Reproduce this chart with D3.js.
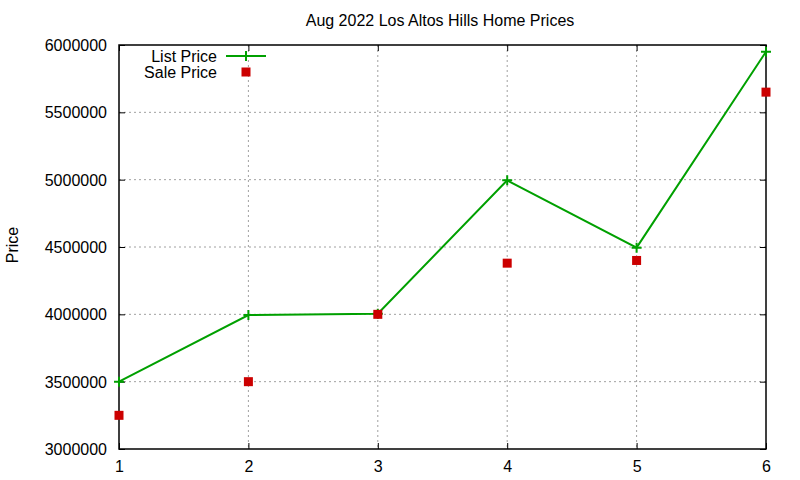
<!DOCTYPE html>
<html>
<head>
<meta charset="utf-8">
<script src="https://cdn.jsdelivr.net/npm/d3@7"></script>
<style>
  body { margin: 0; background: #fff; }
  text { font-family: "Liberation Sans", Arial, sans-serif; }
</style>
</head>
<body>
<div id="chart"></div>
<script>
// data
let months = [1, 2, 3, 4, 5, 6];
let listPrice = [3500000, 3995000, 4005000, 4995000, 4495000, 5950000];
let salePrice = [3250000, 3500000, 4000000, 4380000, 4400000, 5650000];
let yTicks = [3000000, 3500000, 4000000, 4500000, 5000000, 5500000, 6000000];

let W = 800, H = 480;
let margin = {top: 45, right: 34, bottom: 31, left: 119};
let width = W - margin.left - margin.right;
let height = H - margin.top - margin.bottom;

let svg = d3.select("#chart").append("svg")
    .attr("width", W)
    .attr("height", H);

let g = svg.append("g")
    .attr("transform", `translate(${margin.left}, ${margin.top})`);

let x = d3.scaleLinear().domain([1, 6]).range([0, width]);
let y = d3.scaleLinear().domain([3000000, 6000000]).range([height, 0]);

// grid
g.append("g").selectAll("line").data(months.slice(1, -1)).enter().append("line")
    .attr("x1", d => x(d)).attr("x2", d => x(d))
    .attr("y1", 0).attr("y2", height)
    .attr("stroke", "#a0a0a0").attr("stroke-dasharray", "2,3");
g.append("g").selectAll("line").data(yTicks.slice(1, -1)).enter().append("line")
    .attr("x1", 0).attr("x2", width)
    .attr("y1", d => y(d)).attr("y2", d => y(d))
    .attr("stroke", "#a0a0a0").attr("stroke-dasharray", "2,3");

// axes (mirrored like gnuplot)
let fmt = d => d3.format("d")(d);
let axLeft = g.append("g").call(d3.axisLeft(y).tickValues(yTicks).tickSize(-6).tickPadding(12).tickFormat(fmt));
let axRight = g.append("g").attr("transform", `translate(${width},0)`)
    .call(d3.axisRight(y).tickValues(yTicks).tickSize(-6).tickFormat(""));
let axBottom = g.append("g").attr("transform", `translate(0,${height})`)
    .call(d3.axisBottom(x).tickValues(months).tickSize(-6).tickPadding(12).tickFormat(d3.format("d")));
let axTop = g.append("g").call(d3.axisTop(x).tickValues(months).tickSize(-6).tickFormat(""));

[axLeft, axRight, axBottom, axTop].forEach(a => {
    a.select(".domain").remove();
    a.selectAll("line").attr("stroke", "#000");
    a.selectAll("text").attr("font-size", 16).attr("fill", "#000")
        .style("font-family", "'Liberation Sans', Arial, sans-serif");
});
axLeft.selectAll("text").attr("dy", "0.35em");
axBottom.selectAll("text").attr("dy", "0.71em");

g.append("rect")
    .attr("width", width).attr("height", height)
    .attr("fill", "none").attr("stroke", "#000").attr("stroke-width", 1.5);

// list price line
let green = "#00a000", red = "#cc0000";
let line = d3.line().x((d, i) => x(months[i])).y(d => y(d));
g.append("path").datum(listPrice)
    .attr("d", line)
    .attr("fill", "none").attr("stroke", green).attr("stroke-width", 2);

let plus = (sel, cx, cy) => {
    sel.append("path")
        .attr("d", `M${cx - 5},${cy}H${cx + 5}M${cx},${cy - 5}V${cy + 5}`)
        .attr("stroke", green).attr("stroke-width", 2);
};
listPrice.forEach((d, i) => plus(g, x(months[i]), y(d)));

// sale price points
g.selectAll(".sale").data(salePrice).enter().append("rect")
    .attr("class", "sale")
    .attr("x", (d, i) => x(months[i]) - 4.5)
    .attr("y", d => y(d) - 4.5)
    .attr("width", 9).attr("height", 9)
    .attr("fill", red);

// legend
let legend = svg.append("g");
legend.append("text").attr("x", 217).attr("y", 56).attr("dy", "0.35em")
    .attr("text-anchor", "end").attr("font-size", 16).text("List Price");
legend.append("line").attr("x1", 226).attr("x2", 266).attr("y1", 56).attr("y2", 56)
    .attr("stroke", green).attr("stroke-width", 2);
plus(legend, 246, 56);
legend.append("text").attr("x", 217).attr("y", 72).attr("dy", "0.35em")
    .attr("text-anchor", "end").attr("font-size", 16).text("Sale Price");
legend.append("rect").attr("x", 241.5).attr("y", 67.5).attr("width", 9).attr("height", 9)
    .attr("fill", red);

// title and y label
svg.append("text").attr("x", 440).attr("y", 26)
    .attr("text-anchor", "middle").attr("font-size", 16)
    .text("Aug 2022 Los Altos Hills Home Prices");
svg.append("text")
    .attr("transform", "translate(18,245) rotate(-90)")
    .attr("text-anchor", "middle").attr("font-size", 16)
    .text("Price");
</script>
</body>
</html>
